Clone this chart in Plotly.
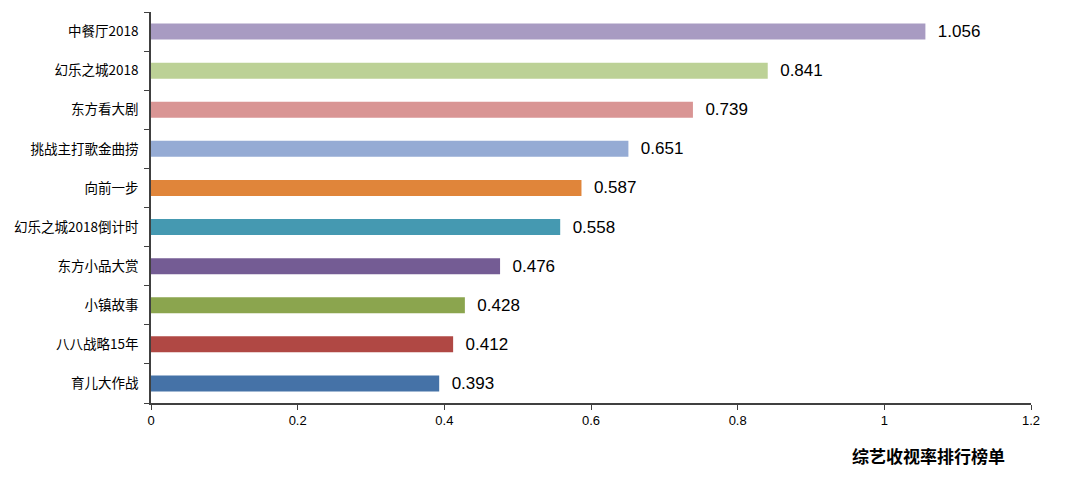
import plotly.graph_objects as go

categories = ["育儿大作战", "八八战略15年", "小镇故事", "东方小品大赏", "幻乐之城2018倒计时",
              "向前一步", "挑战主打歌金曲捞", "东方看大剧", "幻乐之城2018", "中餐厅2018"]
values = [0.393, 0.412, 0.428, 0.476, 0.558, 0.587, 0.651, 0.739, 0.841, 1.056]
colors = ["#4572A7", "#B04844", "#8BA54E", "#745C94", "#4599B1",
          "#E0853A", "#95ABD4", "#D99594", "#BCD196", "#A89BC2"]
x_ticks = [0, 0.2, 0.4, 0.6, 0.8, 1, 1.2]
x_tick_labels = ["0", "0.2", "0.4", "0.6", "0.8", "1", "1.2"]
title_text = "综艺收视率排行榜单"

fig = go.Figure(go.Bar(
    y=categories, x=values, orientation="h",
    marker=dict(color=colors, line=dict(width=0)),
    width=0.41,
    text=[f"  {v:.3f}" for v in values],
    textposition="outside",
    constraintext="none",
    cliponaxis=False,
    textfont=dict(family="Liberation Sans, Arial", size=17, color="#000000"),
    hoverinfo="skip",
))

fig.update_layout(
    width=1080, height=488,
    margin=dict(l=151, r=49, t=12, b=85),
    paper_bgcolor="white", plot_bgcolor="white",
    showlegend=False,
    xaxis=dict(
        range=[0, 1.2], tickvals=x_ticks, ticktext=x_tick_labels,
        showgrid=False, zeroline=False,
        showline=True, linecolor="#404040", linewidth=1.5,
        ticks="outside", ticklen=5, tickcolor="#404040",
        tickfont=dict(family="Liberation Sans, Arial", size=13, color="#000000"),
    ),
    yaxis=dict(
        type="category", tickson="boundaries",
        showgrid=False, zeroline=False,
        showline=True, linecolor="#404040", linewidth=1.5,
        ticks="outside", ticklen=5, tickcolor="#404040",
        ticklabelstandoff=8,
        tickfont=dict(family="Noto Sans CJK SC", size=13.5, color="#000000"),
        range=[-0.5, 9.5],
    ),
    annotations=[dict(
        text=f"<b>{title_text}</b>", xref="paper", yref="paper",
        x=0.883, y=-0.133, xanchor="center", yanchor="middle", showarrow=False,
        font=dict(family="Noto Sans CJK SC", size=17, color="#000000"),
    )],
)

fig.write_html("out.html", config={"displayModeBar": False},
               post_script="document.body.style.margin='0';")
